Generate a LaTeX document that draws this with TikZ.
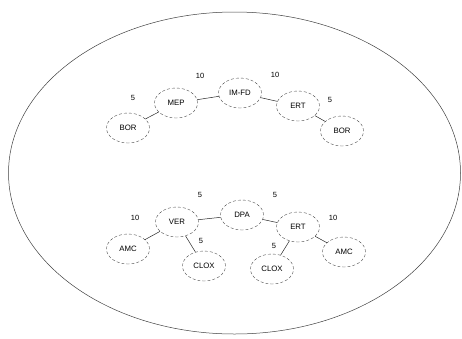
\documentclass[tikz,border=0pt]{standalone}
\usepackage{fontspec}
\setmainfont{Liberation Sans}
\usetikzlibrary{shapes.geometric}
\begin{document}
\begin{tikzpicture}[x=1pt,y=-1pt,
  nd/.style={ellipse,draw=black!70,densely dashed,line width=0.4pt,minimum width=43pt,minimum height=30pt,inner sep=0pt,font=\fontsize{7.8}{9}\selectfont},
  lk/.style={draw=black!85,line width=0.5pt},
  wt/.style={font=\fontsize{7.5}{9}\selectfont,inner sep=0pt}]
\useasboundingbox (0,0) rectangle (462,338);
\draw[black!75,line width=0.5pt] (234.5,173) ellipse [x radius=226, y radius=161];
% top tree
\node[nd] (mep) at (176,103) {MEP};
\node[nd] (imfd) at (240,93) {IM-FD};
\node[nd] (ert1) at (298,106) {ERT};
\node[nd] (bor1) at (128,128) {BOR};
\node[nd] (bor2) at (342,131) {BOR};
\draw[lk] (mep) -- (imfd);
\draw[lk] (imfd) -- (ert1);
\draw[lk] (mep) -- (bor1);
\draw[lk] (ert1) -- (bor2);
\node[wt] (w1) at (200,76) {10};
\node[wt] (w2) at (275,75) {10};
\node[wt] (w3) at (133,98) {5};
\node[wt] (w4) at (330,100) {5};
% bottom tree
\node[nd] (dpa) at (242,215) {DPA};
\node[nd] (ver) at (177,222) {VER};
\node[nd] (ert2) at (298,227) {ERT};
\node[nd] (amc1) at (128,249) {AMC};
\node[nd] (clox1) at (204,266) {CLOX};
\node[nd] (clox2) at (272,269) {CLOX};
\node[nd] (amc2) at (344,252) {AMC};
\draw[lk] (ver) -- (dpa);
\draw[lk] (dpa) -- (ert2);
\draw[lk] (ver) -- (amc1);
\draw[lk] (ver) -- (clox1);
\draw[lk] (ert2) -- (clox2);
\draw[lk] (ert2) -- (amc2);
\node[wt] (w5) at (200,195) {5};
\node[wt] (w6) at (275,195) {5};
\node[wt] (w7) at (135,218) {10};
\node[wt] (w8) at (333,218) {10};
\node[wt] (w9) at (201,241) {5};
\node[wt] (w10) at (274,246) {5};
\end{tikzpicture}
\end{document}
